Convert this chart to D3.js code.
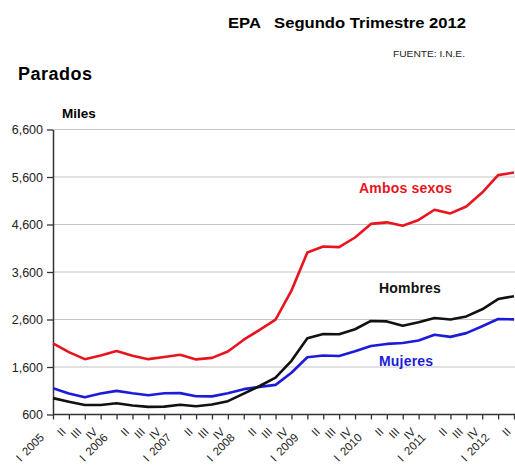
<!DOCTYPE html>
<html>
<head>
<meta charset="utf-8">
<script src="https://cdn.jsdelivr.net/npm/d3@7"></script>
<style>
  html, body { margin: 0; padding: 0; background: #fff; }
  svg { display: block; font-family: "Liberation Sans", Arial, sans-serif; }
</style>
</head>
<body>
<svg id="chart" width="515" height="466"></svg>
<script>
/* EPA - parados por sexo, miles, 2005 T1 .. 2012 T2 */

const quarters = [
  "2005-I", "2005-II", "2005-III", "2005-IV",
  "2006-I", "2006-II", "2006-III", "2006-IV",
  "2007-I", "2007-II", "2007-III", "2007-IV",
  "2008-I", "2008-II", "2008-III", "2008-IV",
  "2009-I", "2009-II", "2009-III", "2009-IV",
  "2010-I", "2010-II", "2010-III", "2010-IV",
  "2011-I", "2011-II", "2011-III", "2011-IV",
  "2012-I", "2012-II",
];

const ambos = [
  2099.5, 1913.0, 1765.0, 1841.3, 1935.8, 1837.0, 1765.0, 1810.6,
  1856.1, 1760.0, 1791.9, 1927.6, 2174.2, 2381.5, 2598.8, 3207.9,
  4010.7, 4137.5, 4123.3, 4326.5, 4612.7, 4645.5, 4574.7, 4696.6,
  4910.2, 4833.7, 4978.3, 5273.6, 5639.5, 5693.1,
];

const hombres = [
  945, 870, 800, 800, 838, 790, 760, 765,
  806, 775, 810, 880, 1040, 1200, 1375, 1730,
  2205, 2295, 2290, 2395, 2570, 2560, 2470, 2540,
  2630, 2600, 2665, 2815, 3030, 3090,
];

const mujeres = [
  1154, 1043, 965, 1041, 1098, 1047, 1005, 1046,
  1050, 985, 982, 1048, 1134, 1181, 1224, 1478,
  1806, 1843, 1833, 1932, 2043, 2086, 2105, 2157,
  2280, 2234, 2313, 2459, 2610, 2603,
];

const yTicks = [600, 1600, 2600, 3600, 4600, 5600, 6600];

const COLOR = {
  ambos: "#e8141e",
  hombres: "#111111",
  mujeres: "#1c1cd8",
};

const svg = d3.select("#chart");

const plot = { left: 53, right: 514, top: 129.5, bottom: 414.5 };

const x = d3.scalePoint().domain(quarters).range([plot.left, plot.right]);
const y = d3.scaleLinear().domain([600, 6600]).range([plot.bottom, plot.top]);

// ------------------------------------------------------------------
// titles
// ------------------------------------------------------------------
svg.append("text")
  .attr("x", 228).attr("y", 28)
  .attr("font-size", 15.5).attr("font-weight", "bold")
  .attr("textLength", 238).attr("lengthAdjust", "spacingAndGlyphs")
  .style("white-space", "pre")
  .text("EPA   Segundo Trimestre 2012");

svg.append("text")
  .attr("x", 393).attr("y", 57)
  .attr("font-size", 8.5).attr("fill", "#222")
  .attr("textLength", 72).attr("lengthAdjust", "spacingAndGlyphs")
  .text("FUENTE: I.N.E.");

svg.append("text")
  .attr("x", 18).attr("y", 80)
  .attr("font-size", 18).attr("font-weight", "bold")
  .attr("letter-spacing", 0.5)
  .text("Parados");

svg.append("text")
  .attr("x", 62).attr("y", 118)
  .attr("font-size", 13.5).attr("font-weight", "bold")
  .text("Miles");

// ------------------------------------------------------------------
// grid + axes
// ------------------------------------------------------------------
svg.append("g")
  .selectAll("line")
  .data(yTicks.filter(d => d > 600))
  .join("line")
  .attr("x1", plot.left).attr("x2", 515)
  .attr("y1", d => y(d)).attr("y2", d => y(d))
  .attr("stroke", "#c4c4c4")
  .attr("stroke-width", 1.2);

const yAxis = svg.append("g")
  .attr("transform", `translate(${plot.left},0)`)
  .call(d3.axisLeft(y).tickValues(yTicks).tickSize(6).tickSizeOuter(0)
    .tickPadding(4).tickFormat(d3.format(",")));

yAxis.select(".domain").attr("stroke", "#333").attr("stroke-width", 1.5);
yAxis.selectAll(".tick line").attr("stroke", "#333").attr("stroke-width", 1.3);
yAxis.selectAll(".tick text")
  .attr("font-size", 12.5)
  .attr("fill", "#222")
  .attr("font-family", "Liberation Sans, Arial, sans-serif");

const xAxis = svg.append("g")
  .attr("transform", `translate(0,${plot.bottom})`)
  .call(d3.axisBottom(x).tickSize(5).tickSizeOuter(0)
    .tickFormat(d => d.split("-")[1]));

xAxis.select(".domain").attr("stroke", "#333").attr("stroke-width", 1.5)
  .attr("d", `M${plot.left},0H515`);
xAxis.selectAll(".tick line").attr("stroke", "#333").attr("stroke-width", 1.3);

xAxis.selectAll(".tick text")
  .attr("x", d => (d.endsWith("-I") ? -8 : 0))
  .attr("y", 0).attr("dy", 0)
  .attr("transform", "translate(-3,18) rotate(-45)")
  .attr("font-size", 11.5)
  .attr("fill", "#222")
  .attr("font-family", "Liberation Sans, Arial, sans-serif")
  .style("text-anchor", "end")
  .text(d => (d.endsWith("-I") ? d.split("-")[0] : d.split("-")[1]));

// first quarter: the "I" sits further down the same diagonal
xAxis.selectAll(".tick")
  .filter(d => d.endsWith("-I"))
  .append("text")
  .attr("x", -39).attr("y", 0)
  .attr("transform", "translate(-3,18) rotate(-45)")
  .attr("font-size", 11.5)
  .attr("fill", "#222")
  .attr("font-family", "Liberation Sans, Arial, sans-serif")
  .style("text-anchor", "end")
  .text("I");

// ------------------------------------------------------------------
// series
// ------------------------------------------------------------------
const line = d3.line()
  .x((d, i) => x(quarters[i]))
  .y(d => y(d));

const series = [
  { key: "mujeres", values: mujeres },
  { key: "hombres", values: hombres },
  { key: "ambos", values: ambos },
];

svg.append("g")
  .selectAll("path")
  .data(series)
  .join("path")
  .attr("d", d => line(d.values))
  .attr("fill", "none")
  .attr("stroke", d => COLOR[d.key])
  .attr("stroke-width", 2.6)
  .attr("stroke-linejoin", "round");

const seriesLabels = [
  { text: "Ambos sexos", key: "ambos", x: 359, y: 193 },
  { text: "Hombres", key: "hombres", x: 379, y: 293 },
  { text: "Mujeres", key: "mujeres", x: 379, y: 366 },
];

svg.append("g")
  .selectAll("text")
  .data(seriesLabels)
  .join("text")
  .attr("x", d => d.x).attr("y", d => d.y)
  .attr("font-size", 14).attr("font-weight", "bold")
  .attr("letter-spacing", 0.2)
  .attr("fill", d => COLOR[d.key])
  .text(d => d.text);
</script>
</body>
</html>
